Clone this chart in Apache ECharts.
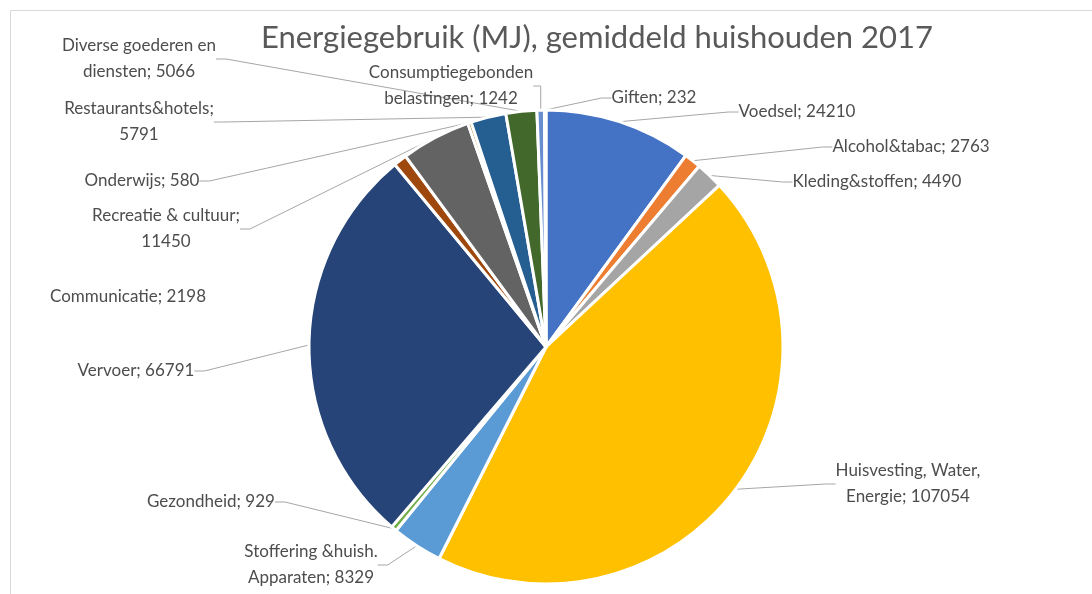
<!DOCTYPE html>
<html>
<head>
<meta charset="utf-8">
<script src="https://cdn.jsdelivr.net/npm/echarts@6/dist/echarts.min.js"></script>
<style>
  html, body { margin: 0; padding: 0; background: #fff; }
  #chart { width: 1092px; height: 594px; }
</style>
</head>
<body>
<div id="chart"></div>
<script>
// categories in the order the slices go round (clockwise from 12 o'clock)
const categories = [
  'Voedsel', 'Alcohol&tabac', 'Kleding&stoffen', 'Huisvesting, Water, Energie',
  'Stoffering &huish. Apparaten', 'Gezondheid', 'Vervoer', 'Communicatie',
  'Recreatie & cultuur', 'Onderwijs', 'Restaurants&hotels',
  'Diverse goederen en diensten', 'Consumptiegebonden belastingen', 'Giften'
]
const values = [24210, 2763, 4490, 107054, 8329, 929, 66791, 2198, 11450, 580, 5791, 5066, 1242, 232]
// how many words go on the first line of the label (0 = one line)
const firstLineWords = [0, 0, 0, 2, 2, 0, 0, 0, 3, 0, 1, 3, 1, 0]

const colors = ['#4472C4', '#ED7D31', '#A5A5A5', '#FFC000', '#5B9BD5', '#70AD47', '#264478',
  '#9E480E', '#636363', '#997300', '#255E91', '#43682B', '#698ED0', '#F1975A']

// where each label sits (center of the text block)
const labelPos = [
  [797, 112], [911, 147], [877, 182], [908, 484], [311, 565], [211, 502], [136, 371],
  [128, 297], [166, 229], [142, 181], [139, 122], [139, 59], [451, 86], [654, 98]
]

function labelText(i) {
  const words = (categories[i] + '; ' + values[i]).split(' ')
  const n = firstLineWords[i]
  if (!n) return words.join(' ')
  return words.slice(0, n).join(' ') + '\n' + words.slice(n).join(' ')
}

const chart = echarts.init(document.getElementById('chart'))

chart.setOption({
  animation: false,
  color: colors,
  title: {
    text: 'Energiegebruik (MJ), gemiddeld huishouden 2017',
    left: 592,
    top: 17,
    textAlign: 'center',
    textStyle: { fontFamily: 'Lato', fontSize: 31, fontWeight: 'normal', color: '#595959' }
  },
  graphic: [{
    type: 'rect',
    shape: { x: 10.5, y: 10.5, width: 1200, height: 700 },
    style: { fill: 'none', stroke: '#D9D9D9', lineWidth: 1 },
    silent: true
  }],
  series: [{
    type: 'pie',
    center: [546, 347],
    radius: 237,
    startAngle: 90,
    clockwise: true,
    itemStyle: { borderColor: '#fff', borderWidth: 3 },
    label: {
      show: true,
      formatter: p => labelText(p.dataIndex),
      fontFamily: 'Lato',
      fontSize: 17,
      lineHeight: 26,
      color: '#4d4d4d',
      align: 'center'
    },
    labelLine: {
      show: true,
      length: 10,
      length2: 10,
      lineStyle: { color: '#A6A6A6', width: 1 }
    },
    labelLayout: p => ({
      x: labelPos[p.dataIndex][0],
      y: labelPos[p.dataIndex][1],
      align: 'center',
      verticalAlign: 'middle',
      moveOverlap: null
    }),
    data: categories.map((name, i) => ({
      name: name,
      value: values[i],
      labelLine: i === 7 ? { show: false } : undefined
    }))
  }]
})
</script>
</body>
</html>
